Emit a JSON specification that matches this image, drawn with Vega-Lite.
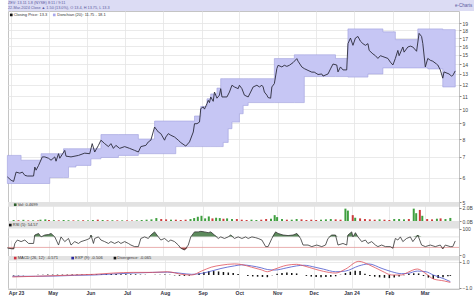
{
"$schema": "https://vega.github.io/schema/vega-lite/v6.json",
"background": "white",
"padding": {"left": 5, "top": 0, "right": 0, "bottom": 0},
"spacing": 0,
"bounds": "flush",
"config": {
  "font": "Liberation Sans",
  "view": {"stroke": "#c4c4c4", "strokeWidth": 1},
  "axis": {"labelFontSize": 5, "labelColor": "#444444", "gridColor": "#e4e4e4", "gridWidth": 0.8, "tickColor": "#888888", "tickSize": 2, "domain": false, "title": null, "labelPadding": 1},
  "legend": {"disable": true}
},
"datasets": {
  "price": [
    {"d":"2023-03-29","c":6.03},{"d":"2023-04-01","c":5.88},{"d":"2023-04-03","c":5.83},{"d":"2023-04-05","c":6.25},{"d":"2023-04-08","c":6.2},{"d":"2023-04-10","c":6.25},{"d":"2023-04-12","c":6.1},{"d":"2023-04-14","c":6.07},{"d":"2023-04-19","c":6.07},{"d":"2023-04-20","c":6.49},{"d":"2023-04-21","c":6.34},{"d":"2023-04-23","c":6.57},{"d":"2023-04-26","c":7.0},{"d":"2023-04-28","c":7.0},
    {"d":"2023-05-01","c":6.93},{"d":"2023-05-03","c":6.83},{"d":"2023-05-06","c":7.0},{"d":"2023-05-07","c":6.78},{"d":"2023-05-09","c":7.17},{"d":"2023-05-10","c":6.93},{"d":"2023-05-14","c":7.35},{"d":"2023-05-15","c":7.04},{"d":"2023-05-19","c":7.0},{"d":"2023-05-25","c":7.08},{"d":"2023-05-30","c":7.2},
    {"d":"2023-06-03","c":7.17},{"d":"2023-06-05","c":7.73},{"d":"2023-06-07","c":7.26},{"d":"2023-06-10","c":7.63},{"d":"2023-06-12","c":7.93},{"d":"2023-06-15","c":7.73},{"d":"2023-06-18","c":7.56},{"d":"2023-06-20","c":7.73},{"d":"2023-06-22","c":7.46},{"d":"2023-06-24","c":7.63},{"d":"2023-06-27","c":7.46},
    {"d":"2023-07-01","c":7.56},{"d":"2023-07-05","c":7.46},{"d":"2023-07-09","c":7.35},{"d":"2023-07-12","c":7.26},{"d":"2023-07-14","c":7.56},{"d":"2023-07-18","c":7.63},{"d":"2023-07-20","c":7.83},{"d":"2023-07-22","c":7.93},{"d":"2023-07-25","c":8.75},{"d":"2023-07-28","c":8.43},{"d":"2023-07-30","c":8.33},
    {"d":"2023-08-02","c":7.93},{"d":"2023-08-03","c":8.12},{"d":"2023-08-05","c":8.33},{"d":"2023-08-07","c":8.23},{"d":"2023-08-10","c":8.12},{"d":"2023-08-13","c":7.93},{"d":"2023-08-15","c":7.79},{"d":"2023-08-19","c":7.59},{"d":"2023-08-22","c":7.83},{"d":"2023-08-25","c":8.43},{"d":"2023-08-26","c":8.97},{"d":"2023-08-28","c":8.97},{"d":"2023-08-30","c":9.08},{"d":"2023-08-31","c":10.04},
    {"d":"2023-09-02","c":10.17},{"d":"2023-09-03","c":10.0},{"d":"2023-09-05","c":10.42},{"d":"2023-09-06","c":10.68},{"d":"2023-09-07","c":10.5},{"d":"2023-09-08","c":10.95},{"d":"2023-09-10","c":10.6},{"d":"2023-09-11","c":11.36},{"d":"2023-09-13","c":10.85},{"d":"2023-09-15","c":11.1},{"d":"2023-09-16","c":11.65},{"d":"2023-09-17","c":10.95},{"d":"2023-09-21","c":10.95},{"d":"2023-09-23","c":11.36},{"d":"2023-09-25","c":11.95},{"d":"2023-09-27","c":11.8},{"d":"2023-09-30","c":11.65},
    {"d":"2023-10-01","c":11.95},{"d":"2023-10-03","c":11.65},{"d":"2023-10-05","c":11.1},{"d":"2023-10-08","c":10.95},{"d":"2023-10-10","c":11.36},{"d":"2023-10-12","c":11.8},{"d":"2023-10-15","c":11.95},{"d":"2023-10-17","c":11.8},{"d":"2023-10-19","c":11.95},{"d":"2023-10-20","c":11.8},{"d":"2023-10-21","c":11.36},{"d":"2023-10-23","c":11.1},{"d":"2023-10-24","c":10.9},{"d":"2023-10-26","c":10.85},{"d":"2023-10-27","c":11.8},{"d":"2023-10-29","c":12.1},{"d":"2023-10-31","c":13.53},
    {"d":"2023-11-01","c":13.87},{"d":"2023-11-04","c":13.7},{"d":"2023-11-06","c":13.87},{"d":"2023-11-08","c":13.76},{"d":"2023-11-10","c":13.87},{"d":"2023-11-13","c":14.15},{"d":"2023-11-16","c":14.58},{"d":"2023-11-17","c":14.3},{"d":"2023-11-20","c":13.7},{"d":"2023-11-22","c":13.53},{"d":"2023-11-25","c":13.35},{"d":"2023-11-28","c":13.18},{"d":"2023-11-30","c":13.18},
    {"d":"2023-12-03","c":12.95},{"d":"2023-12-06","c":13.0},{"d":"2023-12-07","c":12.8},{"d":"2023-12-11","c":13.0},{"d":"2023-12-13","c":13.5},{"d":"2023-12-15","c":14.0},{"d":"2023-12-18","c":13.9},{"d":"2023-12-19","c":13.2},{"d":"2023-12-21","c":13.7},{"d":"2023-12-23","c":13.4},{"d":"2023-12-26","c":13.4},{"d":"2023-12-27","c":16.3},{"d":"2023-12-29","c":17.0},{"d":"2023-12-31","c":16.1},
    {"d":"2024-01-02","c":17.0},{"d":"2024-01-04","c":17.2},{"d":"2024-01-06","c":16.6},{"d":"2024-01-08","c":16.3},{"d":"2024-01-10","c":16.1},{"d":"2024-01-12","c":16.3},{"d":"2024-01-13","c":15.5},{"d":"2024-01-16","c":15.1},{"d":"2024-01-18","c":14.9},{"d":"2024-01-20","c":14.6},{"d":"2024-01-22","c":14.9},{"d":"2024-01-24","c":14.8},{"d":"2024-01-28","c":14.6},{"d":"2024-01-30","c":14.2},
    {"d":"2024-02-01","c":13.9},{"d":"2024-02-03","c":14.6},{"d":"2024-02-05","c":15.5},{"d":"2024-02-06","c":14.9},{"d":"2024-02-09","c":15.9},{"d":"2024-02-10","c":15.3},{"d":"2024-02-13","c":15.9},{"d":"2024-02-15","c":16.0},{"d":"2024-02-17","c":15.9},{"d":"2024-02-20","c":15.4},{"d":"2024-02-22","c":17.6},{"d":"2024-02-24","c":17.2},{"d":"2024-02-25","c":16.3},{"d":"2024-02-27","c":13.7},{"d":"2024-02-29","c":14.6},
    {"d":"2024-03-02","c":14.4},{"d":"2024-03-04","c":14.3},{"d":"2024-03-07","c":14.0},{"d":"2024-03-08","c":13.9},{"d":"2024-03-10","c":13.4},{"d":"2024-03-12","c":12.6},{"d":"2024-03-13","c":13.2},{"d":"2024-03-17","c":13.0},{"d":"2024-03-19","c":12.8},{"d":"2024-03-20","c":12.85},{"d":"2024-03-22","c":13.3}
  ],
  "band": [
    {"d":"2023-03-29","hi":7.08,"lo":5.74},{"d":"2023-04-09","hi":6.83,"lo":5.74},{"d":"2023-04-25","hi":7.17,"lo":5.74},{"d":"2023-05-02","hi":7.17,"lo":6.0},{"d":"2023-05-13","hi":7.44,"lo":6.0},{"d":"2023-05-17","hi":7.44,"lo":6.49},{"d":"2023-05-23","hi":7.44,"lo":6.57},{"d":"2023-06-04","hi":7.44,"lo":6.9},{"d":"2023-06-12","hi":8.27,"lo":6.97},{"d":"2023-06-26","hi":8.27,"lo":7.08},{"d":"2023-07-12","hi":8.0,"lo":7.17},{"d":"2023-07-25","hi":9.15,"lo":7.17},{"d":"2023-08-11","hi":9.15,"lo":7.56},{"d":"2023-08-26","hi":9.5,"lo":7.56},{"d":"2023-08-31","hi":10.2,"lo":7.56},{"d":"2023-09-05","hi":10.8,"lo":7.56},{"d":"2023-09-08","hi":11.2,"lo":7.56},{"d":"2023-09-13","hi":11.7,"lo":7.56},{"d":"2023-09-16","hi":12.55,"lo":7.56},{"d":"2023-09-18","hi":12.55,"lo":7.8},{"d":"2023-09-22","hi":12.55,"lo":8.64},{"d":"2023-09-25","hi":12.55,"lo":9.08},{"d":"2023-10-01","hi":12.55,"lo":9.66},{"d":"2023-10-04","hi":12.55,"lo":10.28},{"d":"2023-10-08","hi":12.55,"lo":10.5},{"d":"2023-10-29","hi":14.58,"lo":10.5},{"d":"2023-11-14","hi":15.0,"lo":10.5},{"d":"2023-11-22","hi":15.0,"lo":12.75},{"d":"2023-12-17","hi":14.6,"lo":12.75},{"d":"2023-12-27","hi":18.2,"lo":12.7},{"d":"2024-01-12","hi":18.2,"lo":13.0},{"d":"2024-01-24","hi":17.8,"lo":13.6},{"d":"2024-02-03","hi":16.8,"lo":13.6},{"d":"2024-02-21","hi":18.2,"lo":13.6},{"d":"2024-02-29","hi":18.2,"lo":13.5},{"d":"2024-03-12","hi":18.1,"lo":11.8},{"d":"2024-03-22","hi":18.1,"lo":11.8}
  ],
  "vol": [
    {"d":"2023-03-30","v":0.15,"dir":"up"},{"d":"2023-04-03","v":0.12,"dir":"down"},{"d":"2023-04-07","v":0.18,"dir":"up"},{"d":"2023-04-11","v":0.1,"dir":"down"},{"d":"2023-04-15","v":0.12,"dir":"up"},{"d":"2023-04-19","v":0.1,"dir":"down"},{"d":"2023-04-21","v":0.2,"dir":"up"},{"d":"2023-04-25","v":0.25,"dir":"up"},{"d":"2023-04-28","v":0.15,"dir":"down"},
    {"d":"2023-05-02","v":0.12,"dir":"up"},{"d":"2023-05-06","v":0.1,"dir":"down"},{"d":"2023-05-10","v":0.15,"dir":"up"},{"d":"2023-05-14","v":0.12,"dir":"up"},{"d":"2023-05-18","v":0.1,"dir":"down"},{"d":"2023-05-22","v":0.1,"dir":"up"},{"d":"2023-05-26","v":0.12,"dir":"down"},{"d":"2023-05-30","v":0.1,"dir":"up"},
    {"d":"2023-06-03","v":0.15,"dir":"up"},{"d":"2023-06-07","v":0.2,"dir":"down"},{"d":"2023-06-11","v":0.15,"dir":"up"},{"d":"2023-06-15","v":0.12,"dir":"down"},{"d":"2023-06-19","v":0.12,"dir":"up"},{"d":"2023-06-23","v":0.1,"dir":"down"},{"d":"2023-06-27","v":0.1,"dir":"up"},
    {"d":"2023-07-01","v":0.1,"dir":"down"},{"d":"2023-07-05","v":0.08,"dir":"down"},{"d":"2023-07-09","v":0.1,"dir":"up"},{"d":"2023-07-13","v":0.15,"dir":"up"},{"d":"2023-07-17","v":0.2,"dir":"up"},{"d":"2023-07-21","v":0.25,"dir":"up"},{"d":"2023-07-25","v":0.45,"dir":"up"},{"d":"2023-07-29","v":0.3,"dir":"down"},
    {"d":"2023-08-02","v":0.25,"dir":"down"},{"d":"2023-08-06","v":0.2,"dir":"up"},{"d":"2023-08-10","v":0.2,"dir":"down"},{"d":"2023-08-14","v":0.15,"dir":"down"},{"d":"2023-08-18","v":0.2,"dir":"down"},{"d":"2023-08-22","v":0.3,"dir":"up"},{"d":"2023-08-25","v":0.45,"dir":"up"},{"d":"2023-08-28","v":0.65,"dir":"up"},{"d":"2023-08-31","v":0.8,"dir":"up"},
    {"d":"2023-09-03","v":0.4,"dir":"up"},{"d":"2023-09-06","v":0.7,"dir":"up"},{"d":"2023-09-09","v":0.4,"dir":"down"},{"d":"2023-09-12","v":0.5,"dir":"up"},{"d":"2023-09-15","v":0.45,"dir":"up"},{"d":"2023-09-18","v":0.35,"dir":"down"},{"d":"2023-09-21","v":0.4,"dir":"up"},{"d":"2023-09-25","v":0.3,"dir":"up"},{"d":"2023-09-29","v":0.3,"dir":"down"},
    {"d":"2023-10-03","v":0.2,"dir":"down"},{"d":"2023-10-07","v":0.15,"dir":"down"},{"d":"2023-10-11","v":0.2,"dir":"up"},{"d":"2023-10-15","v":0.15,"dir":"up"},{"d":"2023-10-19","v":0.2,"dir":"down"},{"d":"2023-10-23","v":0.3,"dir":"down"},{"d":"2023-10-27","v":0.35,"dir":"up"},{"d":"2023-10-30","v":0.9,"dir":"up"},
    {"d":"2023-11-01","v":0.6,"dir":"up"},{"d":"2023-11-05","v":0.3,"dir":"up"},{"d":"2023-11-09","v":0.2,"dir":"down"},{"d":"2023-11-13","v":0.2,"dir":"up"},{"d":"2023-11-17","v":0.3,"dir":"up"},{"d":"2023-11-21","v":0.25,"dir":"down"},{"d":"2023-11-25","v":0.15,"dir":"down"},{"d":"2023-11-29","v":0.2,"dir":"down"},
    {"d":"2023-12-03","v":0.15,"dir":"down"},{"d":"2023-12-07","v":0.2,"dir":"up"},{"d":"2023-12-11","v":0.25,"dir":"up"},{"d":"2023-12-15","v":0.3,"dir":"up"},{"d":"2023-12-19","v":0.25,"dir":"down"},{"d":"2023-12-23","v":0.2,"dir":"down"},{"d":"2023-12-27","v":1.9,"dir":"up"},{"d":"2023-12-29","v":1.6,"dir":"up"},
    {"d":"2024-01-02","v":0.9,"dir":"down"},{"d":"2024-01-04","v":0.5,"dir":"up"},{"d":"2024-01-08","v":0.4,"dir":"down"},{"d":"2024-01-12","v":0.3,"dir":"down"},{"d":"2024-01-16","v":0.25,"dir":"down"},{"d":"2024-01-20","v":0.2,"dir":"down"},{"d":"2024-01-24","v":0.25,"dir":"up"},{"d":"2024-01-28","v":0.2,"dir":"down"},
    {"d":"2024-02-01","v":0.15,"dir":"down"},{"d":"2024-02-05","v":0.3,"dir":"up"},{"d":"2024-02-09","v":0.3,"dir":"up"},{"d":"2024-02-13","v":0.25,"dir":"up"},{"d":"2024-02-17","v":0.3,"dir":"down"},{"d":"2024-02-21","v":1.9,"dir":"up"},{"d":"2024-02-23","v":1.2,"dir":"up"},{"d":"2024-02-26","v":1.7,"dir":"down"},{"d":"2024-02-28","v":0.8,"dir":"up"},
    {"d":"2024-03-03","v":0.3,"dir":"down"},{"d":"2024-03-07","v":0.25,"dir":"down"},{"d":"2024-03-11","v":0.35,"dir":"up"},{"d":"2024-03-14","v":0.4,"dir":"down"},{"d":"2024-03-18","v":0.3,"dir":"up"},{"d":"2024-03-22","v":0.47,"dir":"up"}
  ],
  "rsi": [
    {"d":"2023-03-29","r":28},{"d":"2023-04-01","r":25},{"d":"2023-04-03","r":24},{"d":"2023-04-04","r":45},{"d":"2023-04-06","r":58},{"d":"2023-04-09","r":52},{"d":"2023-04-12","r":58},{"d":"2023-04-15","r":45},{"d":"2023-04-19","r":45},{"d":"2023-04-20","r":77},{"d":"2023-04-23","r":83},{"d":"2023-04-25","r":70},{"d":"2023-04-28","r":77},
    {"d":"2023-05-01","r":79},{"d":"2023-05-03","r":83},{"d":"2023-05-06","r":70},{"d":"2023-05-09","r":39},{"d":"2023-05-11","r":70},{"d":"2023-05-14","r":52},{"d":"2023-05-17","r":64},{"d":"2023-05-19","r":39},{"d":"2023-05-22","r":52},{"d":"2023-05-25","r":45},{"d":"2023-05-27","r":52},{"d":"2023-05-31","r":58},
    {"d":"2023-06-03","r":64},{"d":"2023-06-04","r":77},{"d":"2023-06-06","r":45},{"d":"2023-06-07","r":64},{"d":"2023-06-10","r":70},{"d":"2023-06-12","r":58},{"d":"2023-06-15","r":52},{"d":"2023-06-18","r":45},{"d":"2023-06-20","r":52},{"d":"2023-06-23","r":45},{"d":"2023-06-26","r":52},{"d":"2023-06-28","r":45},
    {"d":"2023-07-01","r":52},{"d":"2023-07-04","r":45},{"d":"2023-07-06","r":39},{"d":"2023-07-09","r":33},{"d":"2023-07-12","r":33},{"d":"2023-07-14","r":64},{"d":"2023-07-17","r":70},{"d":"2023-07-20","r":64},{"d":"2023-07-22","r":77},{"d":"2023-07-25","r":89},{"d":"2023-07-28","r":70},{"d":"2023-07-30","r":58},
    {"d":"2023-08-02","r":64},{"d":"2023-08-05","r":52},{"d":"2023-08-07","r":58},{"d":"2023-08-10","r":52},{"d":"2023-08-13","r":39},{"d":"2023-08-15","r":27},{"d":"2023-08-18","r":20},{"d":"2023-08-21","r":39},{"d":"2023-08-23","r":70},{"d":"2023-08-26","r":89},{"d":"2023-08-29","r":89},{"d":"2023-08-31","r":91},
    {"d":"2023-09-03","r":89},{"d":"2023-09-06","r":86},{"d":"2023-09-08","r":89},{"d":"2023-09-11","r":77},{"d":"2023-09-14","r":64},{"d":"2023-09-16","r":70},{"d":"2023-09-19","r":64},{"d":"2023-09-22","r":70},{"d":"2023-09-24","r":77},{"d":"2023-09-27","r":64},{"d":"2023-09-30","r":70},
    {"d":"2023-10-03","r":64},{"d":"2023-10-06","r":70},{"d":"2023-10-08","r":64},{"d":"2023-10-11","r":70},{"d":"2023-10-14","r":67},{"d":"2023-10-16","r":64},{"d":"2023-10-19","r":58},{"d":"2023-10-22","r":33},{"d":"2023-10-24","r":33},{"d":"2023-10-27","r":64},{"d":"2023-10-30","r":89},
    {"d":"2023-11-01","r":83},{"d":"2023-11-05","r":77},{"d":"2023-11-09","r":75},{"d":"2023-11-13","r":77},{"d":"2023-11-16","r":83},{"d":"2023-11-19","r":64},{"d":"2023-11-21","r":39},{"d":"2023-11-25","r":39},{"d":"2023-11-28","r":33},
    {"d":"2023-12-02","r":39},{"d":"2023-12-06","r":33},{"d":"2023-12-09","r":39},{"d":"2023-12-11","r":64},{"d":"2023-12-14","r":77},{"d":"2023-12-17","r":77},{"d":"2023-12-19","r":39},{"d":"2023-12-23","r":45},{"d":"2023-12-26","r":39},{"d":"2023-12-27","r":77},{"d":"2023-12-30","r":89},{"d":"2023-12-31","r":70},
    {"d":"2024-01-02","r":86},{"d":"2024-01-04","r":70},{"d":"2024-01-07","r":52},{"d":"2024-01-10","r":58},{"d":"2024-01-12","r":45},{"d":"2024-01-15","r":52},{"d":"2024-01-18","r":39},{"d":"2024-01-20","r":33},{"d":"2024-01-23","r":39},{"d":"2024-01-26","r":33},{"d":"2024-01-30","r":33},
    {"d":"2024-02-01","r":27},{"d":"2024-02-03","r":64},{"d":"2024-02-05","r":58},{"d":"2024-02-07","r":70},{"d":"2024-02-09","r":52},{"d":"2024-02-12","r":64},{"d":"2024-02-15","r":70},{"d":"2024-02-17","r":52},{"d":"2024-02-21","r":77},{"d":"2024-02-24","r":39},{"d":"2024-02-27","r":33},
    {"d":"2024-03-02","r":39},{"d":"2024-03-06","r":33},{"d":"2024-03-10","r":39},{"d":"2024-03-12","r":25},{"d":"2024-03-14","r":39},{"d":"2024-03-18","r":33},{"d":"2024-03-20","r":33},{"d":"2024-03-22","r":54.57}
  ],
  "macd": [
    {"d":"2023-03-29","m":-0.15,"s":-0.1},{"d":"2023-04-17","m":-0.1,"s":-0.1},{"d":"2023-05-03","m":-0.05,"s":-0.08},{"d":"2023-05-19","m":0.0,"s":-0.03},{"d":"2023-06-04","m":0.05,"s":0.0},{"d":"2023-06-20","m":0.15,"s":0.08},{"d":"2023-07-06","m":0.2,"s":0.15},{"d":"2023-07-22","m":0.2,"s":0.2},{"d":"2023-08-03","m":0.25,"s":0.22},{"d":"2023-08-15","m":0.05,"s":0.12},{"d":"2023-08-23","m":0.0,"s":0.05},{"d":"2023-08-31","m":0.3,"s":0.12},{"d":"2023-09-08","m":0.6,"s":0.3},{"d":"2023-09-16","m":0.75,"s":0.5},{"d":"2023-09-27","m":0.85,"s":0.7},{"d":"2023-10-03","m":0.8,"s":0.78},{"d":"2023-10-11","m":0.6,"s":0.7},{"d":"2023-10-19","m":0.4,"s":0.55},{"d":"2023-10-24","m":0.25,"s":0.42},{"d":"2023-10-30","m":0.45,"s":0.38},{"d":"2023-11-09","m":0.75,"s":0.55},{"d":"2023-11-17","m":0.82,"s":0.7},{"d":"2023-11-23","m":0.7,"s":0.75},{"d":"2023-12-02","m":0.45,"s":0.6},{"d":"2023-12-09","m":0.28,"s":0.45},{"d":"2023-12-19","m":0.15,"s":0.25},{"d":"2023-12-27","m":0.45,"s":0.3},{"d":"2024-01-07","m":1.05,"s":0.7},{"d":"2024-01-15","m":0.8,"s":0.85},{"d":"2024-01-26","m":0.3,"s":0.5},{"d":"2024-02-03","m":0.0,"s":0.25},{"d":"2024-02-11","m":0.0,"s":0.1},{"d":"2024-02-16","m":0.2,"s":0.12},{"d":"2024-02-24","m":0.46,"s":0.3},{"d":"2024-03-02","m":0.1,"s":0.25},{"d":"2024-03-08","m":-0.3,"s":0.0},{"d":"2024-03-17","m":-0.46,"s":-0.3},{"d":"2024-03-22","m":-0.571,"s":-0.506}
  ],
  "hist": [
    {"d":"2023-03-30","h":-0.04},{"d":"2023-04-03","h":-0.03},{"d":"2023-04-07","h":-0.02},{"d":"2023-04-11","h":-0.01},{"d":"2023-04-15","h":0.0},{"d":"2023-04-19","h":0.01},{"d":"2023-04-23","h":0.02},{"d":"2023-04-27","h":0.03},{"d":"2023-05-01","h":0.03},{"d":"2023-05-05","h":0.03},{"d":"2023-05-09","h":0.03},{"d":"2023-05-13","h":0.03},{"d":"2023-05-17","h":0.03},{"d":"2023-05-21","h":0.03},{"d":"2023-05-25","h":0.04},{"d":"2023-05-29","h":0.04},{"d":"2023-06-02","h":0.05},{"d":"2023-06-06","h":0.05},{"d":"2023-06-10","h":0.06},{"d":"2023-06-14","h":0.06},{"d":"2023-06-18","h":0.07},{"d":"2023-06-22","h":0.07},{"d":"2023-06-26","h":0.06},{"d":"2023-06-30","h":0.06},{"d":"2023-07-04","h":0.05},{"d":"2023-07-08","h":0.05},{"d":"2023-07-12","h":0.03},{"d":"2023-07-16","h":0.02},{"d":"2023-07-20","h":0.0},{"d":"2023-07-24","h":0.01},{"d":"2023-07-28","h":0.02},{"d":"2023-08-01","h":0.03},{"d":"2023-08-05","h":0.01},{"d":"2023-08-09","h":-0.03},{"d":"2023-08-13","h":-0.06},{"d":"2023-08-17","h":-0.07},{"d":"2023-08-21","h":-0.05},{"d":"2023-08-25","h":0.02},{"d":"2023-08-29","h":0.12},{"d":"2023-09-02","h":0.22},{"d":"2023-09-06","h":0.28},{"d":"2023-09-10","h":0.3},{"d":"2023-09-14","h":0.27},{"d":"2023-09-18","h":0.23},{"d":"2023-09-22","h":0.19},{"d":"2023-09-26","h":0.15},{"d":"2023-09-30","h":0.08},{"d":"2023-10-04","h":0.0},{"d":"2023-10-08","h":-0.07},{"d":"2023-10-12","h":-0.11},{"d":"2023-10-16","h":-0.13},{"d":"2023-10-20","h":-0.15},{"d":"2023-10-24","h":-0.17},{"d":"2023-10-28","h":-0.02},{"d":"2023-11-01","h":0.1},{"d":"2023-11-05","h":0.16},{"d":"2023-11-09","h":0.2},{"d":"2023-11-13","h":0.16},{"d":"2023-11-17","h":0.12},{"d":"2023-11-21","h":0.0},{"d":"2023-11-25","h":-0.07},{"d":"2023-11-29","h":-0.12},{"d":"2023-12-03","h":-0.15},{"d":"2023-12-07","h":-0.17},{"d":"2023-12-11","h":-0.16},{"d":"2023-12-15","h":-0.13},{"d":"2023-12-19","h":-0.1},{"d":"2023-12-23","h":0.02},{"d":"2023-12-27","h":0.15},{"d":"2023-12-31","h":0.25},{"d":"2024-01-04","h":0.33},{"d":"2024-01-08","h":0.3},{"d":"2024-01-12","h":0.1},{"d":"2024-01-16","h":-0.07},{"d":"2024-01-20","h":-0.13},{"d":"2024-01-24","h":-0.18},{"d":"2024-01-28","h":-0.21},{"d":"2024-02-01","h":-0.24},{"d":"2024-02-05","h":-0.2},{"d":"2024-02-09","h":-0.12},{"d":"2024-02-13","h":-0.02},{"d":"2024-02-17","h":0.09},{"d":"2024-02-21","h":0.13},{"d":"2024-02-25","h":0.12},{"d":"2024-02-29","h":-0.08},{"d":"2024-03-04","h":-0.2},{"d":"2024-03-08","h":-0.3},{"d":"2024-03-12","h":-0.24},{"d":"2024-03-16","h":-0.17},{"d":"2024-03-20","h":-0.1},{"d":"2024-03-22","h":-0.065}
  ]
},
"vconcat": [
  {
    "width": 469, "height": 11,
    "view": {"fill": "#dcdcf4", "stroke": null},
    "layer": [
      {"data": {"values": [{"line": "a", "t": "ZEV: 13.11 1.8 (NYSE) 8:11 / 9:11"}, {"line": "b", "t": "22-Mar-2024 Close ▲ 1.50 (13.0%), O 13.4, H 13.75, L 13.3"}]},
       "mark": {"type": "text", "align": "left", "fontSize": 3.8, "color": "#5a5aa0"},
       "encoding": {"y": {"field": "line", "type": "nominal", "axis": null}, "x": {"datum": 0, "type": "quantitative", "scale": {"domain": [0, 1]}, "axis": null}, "text": {"field": "t"}}},
      {"data": {"values": [{"t": "e-Charts"}]},
       "mark": {"type": "text", "align": "right", "fontSize": 4.5, "color": "#5a5aa0"},
       "encoding": {"x": {"datum": 0.99, "type": "quantitative"}, "text": {"field": "t"}}}
    ]
  },
  {
    "width": 451, "height": 191,
    "layer": [
      {"data": {"name": "band"},
       "mark": {"type": "area", "interpolate": "step-after", "stroke": "#a0a0de", "strokeWidth": 0.6, "opacity": 1, "color": "#c6c6f4"},
       "encoding": {
         "x": {"field": "d", "type": "temporal", "scale": {"type": "utc", "domain": [{"year": 2023, "month": 3, "date": 29, "hours": 12, "utc": true}, {"year": 2024, "month": 3, "date": 25, "utc": true}]},
               "axis": {"values": [{"year":2023,"month":4,"date":1,"utc":true},{"year":2023,"month":5,"date":1,"utc":true},{"year":2023,"month":6,"date":1,"utc":true},{"year":2023,"month":7,"date":1,"utc":true},{"year":2023,"month":8,"date":1,"utc":true},{"year":2023,"month":9,"date":1,"utc":true},{"year":2023,"month":10,"date":1,"utc":true},{"year":2023,"month":11,"date":1,"utc":true},{"year":2023,"month":12,"date":1,"utc":true},{"year":2024,"month":1,"date":1,"utc":true},{"year":2024,"month":2,"date":1,"utc":true},{"year":2024,"month":3,"date":1,"utc":true}], "labels": false, "ticks": false, "grid": true}},
         "y": {"field": "hi", "type": "quantitative", "scale": {"type": "log", "domain": [5, 20.8], "nice": false}, "axis": {"orient": "right", "values": [5,6,7,8,9,10,11,12,13,14,15,16,17,18,19], "grid": true}},
         "y2": {"field": "lo"}
       }},
      {"data": {"name": "price"},
       "mark": {"type": "line", "strokeWidth": 0.9, "color": "#2a2a3a"},
       "encoding": {"x": {"field": "d", "type": "temporal"}, "y": {"field": "c", "type": "quantitative"}}},
      {"data": {"values": [{}]}, "mark": {"type": "point", "shape": "square", "filled": true, "size": 7, "color": "#111111", "opacity": 1},
       "encoding": {"x": {"datum": {"year": 2023, "month": 4, "date": 1, "hours": 3, "utc": true}, "type": "temporal"}, "y": {"datum": 20.2, "type": "quantitative"}}},
      {"data": {"values": [{}]}, "mark": {"type": "text", "align": "left", "baseline": "middle", "fontSize": 4, "color": "#333333", "text": "Closing Price: 13.3"},
       "encoding": {"x": {"datum": {"year": 2023, "month": 4, "date": 3, "hours": 2, "utc": true}, "type": "temporal"}, "y": {"datum": 20.2, "type": "quantitative"}}},
      {"data": {"values": [{}]}, "mark": {"type": "point", "shape": "square", "filled": true, "size": 7, "color": "#a8a8ec", "opacity": 1},
       "encoding": {"x": {"datum": {"year": 2023, "month": 5, "date": 5, "hours": 14, "utc": true}, "type": "temporal"}, "y": {"datum": 20.2, "type": "quantitative"}}},
      {"data": {"values": [{}]}, "mark": {"type": "text", "align": "left", "baseline": "middle", "fontSize": 4, "color": "#333333", "text": "Donchian (20): 11.75 - 18.1"},
       "encoding": {"x": {"datum": {"year": 2023, "month": 5, "date": 8, "utc": true}, "type": "temporal"}, "y": {"datum": 20.2, "type": "quantitative"}}}
    ]
  },
  {
    "width": 451, "height": 19,
    "layer": [
      {"data": {"values": [{}]}, "mark": {"type": "rect", "color": "#e2e2e2"},
       "encoding": {"y": {"datum": 2.2, "type": "quantitative", "scale": {"domain": [0, 2.92], "nice": false}, "axis": {"orient": "right", "values": [0, 1, 2], "grid": false, "labelExpr": "format(datum.value, '.1f') + 'B'"}}, "y2": {"datum": 2.92}}},
      {"data": {"name": "vol"}, "mark": {"type": "bar", "width": 2},
       "encoding": {
         "x": {"field": "d", "type": "temporal", "scale": {"type": "utc", "domain": [{"year": 2023, "month": 3, "date": 29, "hours": 12, "utc": true}, {"year": 2024, "month": 3, "date": 25, "utc": true}]},
               "axis": {"values": [{"year":2023,"month":4,"date":1,"utc":true},{"year":2023,"month":5,"date":1,"utc":true},{"year":2023,"month":6,"date":1,"utc":true},{"year":2023,"month":7,"date":1,"utc":true},{"year":2023,"month":8,"date":1,"utc":true},{"year":2023,"month":9,"date":1,"utc":true},{"year":2023,"month":10,"date":1,"utc":true},{"year":2023,"month":11,"date":1,"utc":true},{"year":2023,"month":12,"date":1,"utc":true},{"year":2024,"month":1,"date":1,"utc":true},{"year":2024,"month":2,"date":1,"utc":true},{"year":2024,"month":3,"date":1,"utc":true}], "labels": false, "ticks": false, "grid": true}},
         "y": {"field": "v", "type": "quantitative"},
         "color": {"field": "dir", "type": "nominal", "scale": {"domain": ["up", "down"], "range": ["#3f9f3f", "#cc3b3b"]}}
       }},
      {"data": {"values": [{}]}, "mark": {"type": "point", "shape": "square", "filled": true, "size": 7, "color": "#2d5e2d", "opacity": 1},
       "encoding": {"x": {"datum": {"year": 2023, "month": 3, "date": 31, "hours": 8, "utc": true}, "type": "temporal"}, "y": {"datum": 2.5, "type": "quantitative"}}},
      {"data": {"values": [{}]}, "mark": {"type": "text", "align": "left", "baseline": "middle", "fontSize": 4, "color": "#333333", "text": "Vol: 0.4699"},
       "encoding": {"x": {"datum": {"year": 2023, "month": 4, "date": 2, "hours": 8, "utc": true}, "type": "temporal"}, "y": {"datum": 2.5, "type": "quantitative"}}}
    ]
  },
  {
    "width": 451, "height": 35,
    "layer": [
      {"data": {"name": "rsi"}, "mark": {"type": "area", "color": "#5c8a5c", "opacity": 1},
       "encoding": {
         "x": {"field": "d", "type": "temporal", "scale": {"type": "utc", "domain": [{"year": 2023, "month": 3, "date": 29, "hours": 12, "utc": true}, {"year": 2024, "month": 3, "date": 25, "utc": true}]},
               "axis": {"values": [{"year":2023,"month":4,"date":1,"utc":true},{"year":2023,"month":5,"date":1,"utc":true},{"year":2023,"month":6,"date":1,"utc":true},{"year":2023,"month":7,"date":1,"utc":true},{"year":2023,"month":8,"date":1,"utc":true},{"year":2023,"month":9,"date":1,"utc":true},{"year":2023,"month":10,"date":1,"utc":true},{"year":2023,"month":11,"date":1,"utc":true},{"year":2023,"month":12,"date":1,"utc":true},{"year":2024,"month":1,"date":1,"utc":true},{"year":2024,"month":2,"date":1,"utc":true},{"year":2024,"month":3,"date":1,"utc":true}], "labels": false, "ticks": false, "grid": true}},
         "y": {"field": "r", "type": "quantitative", "scale": {"domain": [70, 130.4], "range": [15.89, 0], "clamp": true, "nice": false, "zero": false}, "axis": null},
         "y2": {"datum": 70}
       }},
      {"data": {"name": "rsi"}, "mark": {"type": "area", "color": "#a85050", "opacity": 1},
       "encoding": {
         "x": {"field": "d", "type": "temporal"},
         "y": {"field": "r", "type": "quantitative", "scale": {"domain": [-2.66, 30], "range": [35, 26.41], "clamp": true, "nice": false, "zero": false}, "axis": null},
         "y2": {"datum": 30}
       }},
      {"layer": [
        {"data": {"values": [{}]}, "mark": {"type": "rect", "color": "#e2e2e2"},
         "encoding": {"y": {"datum": 102, "type": "quantitative", "scale": {"domain": [-2.66, 130.4], "nice": false, "zero": false}, "axis": {"orient": "right", "values": [0, 30, 50, 70, 100], "grid": false, "labelColor": {"condition": {"test": "datum.value == 30 || datum.value == 70", "value": "#bbbbbb"}, "value": "#444444"}}}, "y2": {"datum": 130.4}}},
        {"data": {"values": [{}]}, "mark": {"type": "rule", "color": "#e39a9a", "strokeWidth": 0.8}, "encoding": {"y": {"datum": 30, "type": "quantitative"}}},
        {"data": {"values": [{}]}, "mark": {"type": "rule", "color": "#dddddd", "strokeWidth": 0.8}, "encoding": {"y": {"datum": 70, "type": "quantitative"}}},
        {"data": {"name": "rsi"}, "mark": {"type": "line", "strokeWidth": 0.8, "color": "#333333"},
         "encoding": {"x": {"field": "d", "type": "temporal"}, "y": {"field": "r", "type": "quantitative"}}},
        {"data": {"values": [{}]}, "mark": {"type": "point", "shape": "square", "filled": true, "size": 7, "color": "#111111", "opacity": 1},
         "encoding": {"x": {"datum": {"year": 2023, "month": 3, "date": 31, "hours": 8, "utc": true}, "type": "temporal"}, "y": {"datum": 115, "type": "quantitative"}}},
        {"data": {"values": [{}]}, "mark": {"type": "text", "align": "left", "baseline": "middle", "fontSize": 4, "color": "#333333", "text": "RSI (5): 54.57"},
         "encoding": {"x": {"datum": {"year": 2023, "month": 4, "date": 2, "hours": 8, "utc": true}, "type": "temporal"}, "y": {"datum": 115, "type": "quantitative"}}}
      ]}
    ],
    "resolve": {"scale": {"y": "independent"}}
  },
  {
    "width": 451, "height": 33,
    "layer": [
      {"data": {"values": [{}]}, "mark": {"type": "rect", "color": "#e2e2e2"},
       "encoding": {"y": {"datum": 1.12, "type": "quantitative", "scale": {"domain": [-1.077, 1.46], "nice": false, "zero": false}, "axis": {"orient": "right", "values": [-1, -0.5, 0, 0.5, 1], "format": ".1f", "grid": true}}, "y2": {"datum": 1.46}}},
      {"data": {"name": "hist"}, "mark": {"type": "bar", "width": 1.5, "color": "#111111"},
       "encoding": {
         "x": {"field": "d", "type": "temporal", "scale": {"type": "utc", "domain": [{"year": 2023, "month": 3, "date": 29, "hours": 12, "utc": true}, {"year": 2024, "month": 3, "date": 25, "utc": true}]},
               "axis": {"values": [{"year":2023,"month":4,"date":1,"utc":true},{"year":2023,"month":5,"date":1,"utc":true},{"year":2023,"month":6,"date":1,"utc":true},{"year":2023,"month":7,"date":1,"utc":true},{"year":2023,"month":8,"date":1,"utc":true},{"year":2023,"month":9,"date":1,"utc":true},{"year":2023,"month":10,"date":1,"utc":true},{"year":2023,"month":11,"date":1,"utc":true},{"year":2023,"month":12,"date":1,"utc":true},{"year":2024,"month":1,"date":1,"utc":true},{"year":2024,"month":2,"date":1,"utc":true},{"year":2024,"month":3,"date":1,"utc":true}], "grid": true, "ticks": false, "labelFontSize": 5, "labelFontWeight": "bold", "labelColor": "#333344", "labelPadding": 1, "labelExpr": "utcFormat(datum.value, '%b') + ((utcmonth(datum.value) == 0 || datum.index == 0) ? ' ' + utcFormat(datum.value, '%y') : '')"}},
         "y": {"field": "h", "type": "quantitative"},
         "y2": {"datum": 0}
       }},
      {"data": {"name": "macd"}, "mark": {"type": "line", "strokeWidth": 0.8, "interpolate": "monotone", "color": "#4a55cc"},
       "encoding": {"x": {"field": "d", "type": "temporal"}, "y": {"field": "s", "type": "quantitative"}}},
      {"data": {"name": "macd"}, "mark": {"type": "line", "strokeWidth": 0.8, "interpolate": "monotone", "color": "#e0505a"},
       "encoding": {"x": {"field": "d", "type": "temporal"}, "y": {"field": "m", "type": "quantitative"}}},
      {"data": {"values": [{}]}, "mark": {"type": "point", "shape": "square", "filled": true, "size": 7, "color": "#d03040", "opacity": 1},
       "encoding": {"x": {"datum": {"year": 2023, "month": 3, "date": 31, "hours": 8, "utc": true}, "type": "temporal"}, "y": {"datum": 1.3, "type": "quantitative"}}},
      {"data": {"values": [{}]}, "mark": {"type": "text", "align": "left", "baseline": "middle", "fontSize": 4, "color": "#333333", "text": "MACD (26, 12): -0.571"},
       "encoding": {"x": {"datum": {"year": 2023, "month": 4, "date": 2, "hours": 8, "utc": true}, "type": "temporal"}, "y": {"datum": 1.3, "type": "quantitative"}}},
      {"data": {"values": [{}]}, "mark": {"type": "point", "shape": "square", "filled": true, "size": 7, "color": "#2a2aa0", "opacity": 1},
       "encoding": {"x": {"datum": {"year": 2023, "month": 5, "date": 17, "hours": 10, "utc": true}, "type": "temporal"}, "y": {"datum": 1.3, "type": "quantitative"}}},
      {"data": {"values": [{}]}, "mark": {"type": "text", "align": "left", "baseline": "middle", "fontSize": 4, "color": "#333333", "text": "EXP (9): -0.506"},
       "encoding": {"x": {"datum": {"year": 2023, "month": 5, "date": 19, "hours": 10, "utc": true}, "type": "temporal"}, "y": {"datum": 1.3, "type": "quantitative"}}},
      {"data": {"values": [{}]}, "mark": {"type": "point", "shape": "square", "filled": true, "size": 7, "color": "#111111", "opacity": 1},
       "encoding": {"x": {"datum": {"year": 2023, "month": 6, "date": 21, "hours": 2, "utc": true}, "type": "temporal"}, "y": {"datum": 1.3, "type": "quantitative"}}},
      {"data": {"values": [{}]}, "mark": {"type": "text", "align": "left", "baseline": "middle", "fontSize": 4, "color": "#333333", "text": "Divergence: -0.065"},
       "encoding": {"x": {"datum": {"year": 2023, "month": 6, "date": 23, "utc": true}, "type": "temporal"}, "y": {"datum": 1.3, "type": "quantitative"}}}
    ]
  }
]
}
